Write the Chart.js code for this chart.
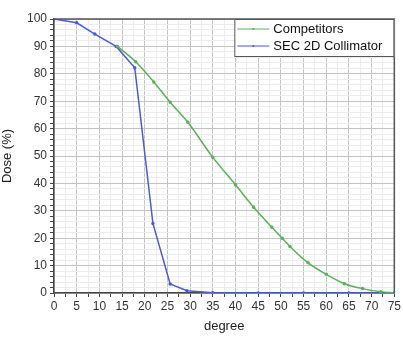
<!DOCTYPE html>
<html>
<head>
<meta charset="utf-8">
<script src="https://cdn.jsdelivr.net/npm/chart.js@4.4.1/dist/chart.umd.min.js"></script>
<style>
  html, body { margin: 0; padding: 0; background: #fff; }
  #wrap { width: 403px; height: 338px; }
</style>
</head>
<body>
<div id="wrap"><canvas id="myChart" width="403" height="338"></canvas></div>
<script>
// データ
var competitorsDeg = [14, 18, 22, 25.6, 29.5, 35, 40, 44, 48, 50.3, 52, 56, 60, 64, 68, 72, 75];
var competitorsDose = [90, 84.4, 77, 69.6, 62.3, 49.5, 39.5, 31.3, 24, 20, 17, 11, 6.8, 3.4, 1.6, 0.5, 0.1];
var secDeg = [0, 5, 9, 13.7, 17.8, 21.8, 25.6, 29.3, 35, 45, 55, 65, 75];
var secDose = [100, 98.6, 94.5, 90, 82.2, 25.4, 3.3, 0.8, 0.1, 0, 0, 0, 0];
var seriesNames = ["Competitors", "SEC 2D Collimator"];
var seriesColors = ["#5cae5c", "#4a5ccf"];

function toPoints(xs, ys) {
  var pts = [];
  for (var i = 0; i < xs.length; ++i) pts.push({ x: xs[i], y: ys[i] });
  return pts;
}

var FONT = "'Liberation Sans', Arial, sans-serif";

// 外枠（上と右）
var framePlugin = {
  id: "frame",
  afterDraw: function(chart) {
    var a = chart.chartArea, c = chart.ctx;
    c.save();
    c.strokeStyle = "#555";
    c.lineWidth = 1.5;
    c.beginPath();
    c.moveTo(a.left, a.top);
    c.lineTo(a.right, a.top);
    c.lineTo(a.right, a.bottom);
    c.stroke();
    c.restore();
  }
};

// 右上の凡例ボックス
var legendBoxPlugin = {
  id: "legendBox",
  afterDraw: function(chart) {
    var a = chart.chartArea, c = chart.ctx;
    var w = 160, h = 38;
    var x0 = a.right - w, y0 = a.top;
    c.save();
    c.fillStyle = "#fff";
    c.fillRect(x0, y0, w, h);
    c.strokeStyle = "#555";
    c.lineWidth = 1;
    c.strokeRect(x0 + 0.5, y0 + 0.5, w - 1, h - 1);
    c.font = "13px " + FONT;
    c.textBaseline = "middle";
    for (var i = 0; i < seriesNames.length; ++i) {
      var yy = y0 + 10 + i * 17;
      c.strokeStyle = seriesColors[i];
      c.lineWidth = 1.2;
      c.beginPath();
      c.moveTo(x0 + 3, yy);
      c.lineTo(x0 + 35, yy);
      c.stroke();
      c.fillStyle = seriesColors[i];
      c.beginPath();
      c.arc(x0 + 19, yy, 1.1, 0, Math.PI * 2);
      c.fill();
      c.fillStyle = "#111";
      c.fillText(seriesNames[i], x0 + 39, yy);
    }
    c.restore();
  }
};

var ctx = document.getElementById("myChart");
var myChart = new Chart(ctx, {
  type: "line",
  data: {
    datasets: [
      {
        label: seriesNames[0],
        data: toPoints(competitorsDeg, competitorsDose),
        borderColor: seriesColors[0],
        backgroundColor: seriesColors[0],
        borderWidth: 1.5,
        pointRadius: 1,
        pointHoverRadius: 1,
        cubicInterpolationMode: "monotone"
      },
      {
        label: seriesNames[1],
        data: toPoints(secDeg, secDose),
        borderColor: seriesColors[1],
        backgroundColor: seriesColors[1],
        borderWidth: 1.5,
        pointRadius: 1,
        pointHoverRadius: 1,
        tension: 0
      }
    ]
  },
  options: {
    responsive: false,
    animation: false,
    layout: { padding: { top: 19, right: 8, left: 0, bottom: 4 } },
    plugins: { legend: { display: false }, tooltip: { enabled: false } },
    scales: {
      x: {
        type: "linear",
        min: 0, max: 75,
        afterFit: function(s) { s.height = 41; },
        ticks: {
          stepSize: 2.5,
          autoSkip: false,
          maxRotation: 0,
          padding: 2,
          color: "#333",
          font: { family: FONT, size: 12 },
          callback: function(v) { return v % 5 === 0 ? v : ""; }
        },
        grid: {
          color: function(c) { return c.tick && c.tick.value % 5 === 0 ? "#c4c4c4" : "#ececec"; },
          tickColor: "#444",
          tickLength: 4,
          lineWidth: 1
        },
        border: { color: "#444", width: 1.5 },
        title: {
          display: true,
          text: "degree",
          color: "#222",
          font: { family: FONT, size: 13 },
          padding: { top: 2, bottom: 0 }
        }
      },
      y: {
        min: 0, max: 100,
        afterFit: function(s) { s.width = 54; },
        ticks: {
          stepSize: 2,
          autoSkip: false,
          padding: 3,
          color: "#333",
          font: { family: FONT, size: 12 },
          callback: function(v) { return v % 10 === 0 ? v : ""; }
        },
        grid: {
          color: function(c) { return c.tick && c.tick.value % 10 === 0 ? "#c4c4c4" : "#ececec"; },
          tickColor: "#444",
          tickLength: 4,
          lineWidth: 1
        },
        border: { color: "#444", width: 1.5 },
        title: {
          display: true,
          text: "Dose (%)",
          color: "#222",
          font: { family: FONT, size: 13 },
          padding: { top: 0, bottom: 2 }
        }
      }
    }
  },
  plugins: [framePlugin, legendBoxPlugin]
});
</script>
</body>
</html>
